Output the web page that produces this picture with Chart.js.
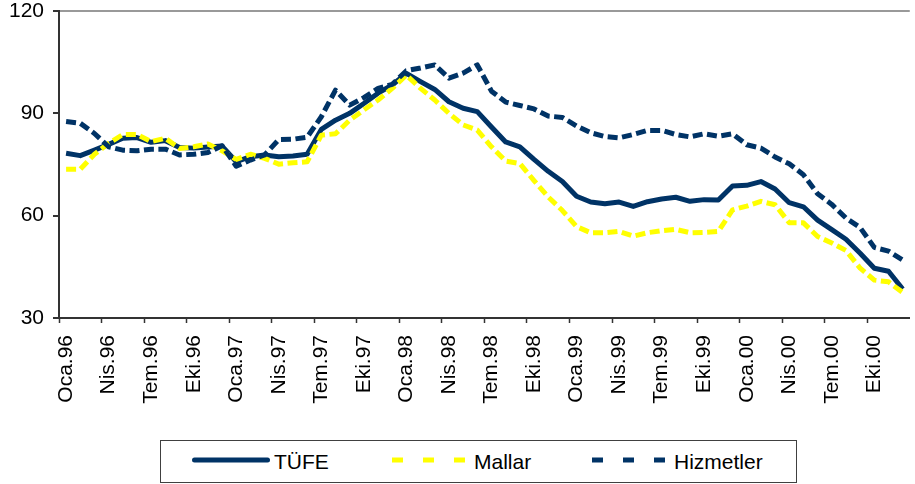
<!DOCTYPE html>
<html>
<head>
<meta charset="utf-8">
<script src="https://cdn.jsdelivr.net/npm/chart.js@4"></script>
<style>
  html, body { margin: 0; padding: 0; overflow: hidden; background: #fff; }
  /* the plot runs on past the right edge of the window, like the cropped original */
  #wrap { width: 940px; height: 484px; }
  #legend {
    position: absolute; left: 160px; top: 440px; width: 637px; height: 43px;
    box-sizing: border-box; border: 1px solid #404040; background: #fff;
    font-family: 'Liberation Sans', Arial, sans-serif; font-size: 21px; color: #000;
  }
  #legend .item { position: absolute; top: 0; height: 41px; }
  #legend svg { position: absolute; left: 0; top: 16px; }
  #legend span { position: absolute; left: 82px; top: 8.7px; line-height: 24px; white-space: nowrap; }
</style>
</head>
<body>
<div id="wrap"><canvas id="chart"></canvas></div>
<div id="legend"></div>
<script>
const monthNames = ['Oca', 'Şub', 'Mar', 'Nis', 'May', 'Haz', 'Tem', 'Ağu', 'Eyl', 'Eki', 'Kas', 'Ara'];
const years = ['96', '97', '98', '99', '00'];
const yTicks = [30, 60, 90, 120];

const tufe = [78.3, 77.6, 79.2, 80.9, 82.7, 82.9, 81.5, 82.0, 80.0, 79.8,
    80.1, 80.4, 75.8, 77.3, 77.8, 77.3, 77.5, 78.0, 85.3, 88.0,
    90.0, 92.9, 95.9, 98.3, 101.7, 99.3, 97.0, 93.4, 91.5, 90.5,
    86.0, 81.6, 80.2, 76.5, 73.0, 70.0, 65.7, 64.0, 63.5, 64.0,
    62.7, 64.1, 64.9, 65.4, 64.2, 64.7, 64.6, 68.7, 68.9, 70.0,
    67.8, 63.8, 62.6, 58.7, 55.9, 53.1, 49.0, 44.6, 43.7, 38.5];
const mallar = [73.6, 73.6, 78.0, 81.2, 83.8, 83.8, 81.7, 82.7, 79.7, 80.2,
    81.0, 79.0, 76.5, 78.0, 76.8, 75.1, 75.5, 75.8, 83.6, 84.0,
    88.0, 91.0, 93.9, 97.3, 101.2, 97.3, 93.9, 90.0, 86.6, 85.1,
    80.2, 76.0, 75.3, 70.3, 65.5, 61.5, 56.8, 55.0, 55.0, 55.4,
    54.0, 55.0, 55.6, 56.0, 55.0, 55.1, 55.4, 61.7, 62.8, 64.2,
    63.2, 57.9, 57.9, 53.9, 52.0, 49.8, 44.6, 41.1, 40.6, 37.5];
const hizmetler = [87.6, 87.1, 84.1, 80.2, 79.2, 79.0, 79.5, 79.5, 77.8, 78.0,
    78.5, 80.5, 74.5, 76.3, 77.8, 82.3, 82.4, 83.0, 89.0, 96.8,
    92.4, 94.6, 97.3, 98.5, 102.5, 103.3, 104.2, 100.3, 101.8, 104.2,
    96.5, 93.3, 92.3, 91.3, 89.2, 88.8, 86.3, 84.3, 83.2, 82.8,
    83.8, 85.0, 85.0, 83.8, 83.1, 84.0, 83.3, 84.0, 80.8, 79.8,
    77.2, 75.2, 72.0, 66.4, 63.3, 59.3, 56.5, 50.7, 49.6, 47.0];

const labels = [];
years.forEach(y => monthNames.forEach(m => labels.push(m + '.' + y)));

const navy = '#003366';
const yellow = '#ffff00';
const font = "'Liberation Sans', Arial, sans-serif";

const chart = new Chart(document.getElementById('chart'), {
    type: 'line',
    data: {
        labels: labels,
        datasets: [
            { label: 'TÜFE', data: tufe, borderColor: navy, order: 2 },
            { label: 'Mallar', data: mallar, borderColor: yellow, borderDash: [10, 4.5], order: 1 },
            { label: 'Hizmetler', data: hizmetler, borderColor: navy, borderDash: [10, 4.5], order: 0 }
        ]
    },
    options: {
        responsive: true,
        maintainAspectRatio: false,
        animation: false,
        events: [],
        layout: { padding: { left: 0, right: 14.3, top: 11, bottom: 71 } },
        elements: {
            line: { borderWidth: 5, tension: 0, fill: false, borderJoinStyle: 'round' },
            point: { radius: 0 }
        },
        scales: {
            x: {
                offset: true,
                grid: {
                    offset: true,
                    drawOnChartArea: false,
                    tickLength: 5,
                    tickWidth: 1.5,
                    tickColor: ctx => ctx.index % 3 === 0 ? '#333' : 'rgba(0,0,0,0)'
                },
                border: { color: '#333', width: 2 },
                ticks: {
                    autoSkip: false,
                    minRotation: 90,
                    maxRotation: 90,
                    padding: 12,
                    color: '#000',
                    font: { family: font, size: 21 },
                    callback: (v, i) => i % 3 === 0 ? labels[i] : ''
                },
                afterFit: axis => { axis.height = 95; }
            },
            y: {
                min: 30,
                max: 120,
                afterBuildTicks: axis => { axis.ticks = yTicks.map(v => ({ value: v })); },
                grid: {
                    color: ctx => ctx.tick && ctx.tick.value === 120 ? '#999' : 'rgba(0,0,0,0)',
                    lineWidth: 2,
                    tickColor: '#333',
                    tickLength: 6
                },
                border: { color: '#333', width: 2 },
                ticks: { padding: 9, color: '#000', font: { family: font, size: 21, lineHeight: 1 } },
                // fixed width; and only half a label of room above the top tick
                afterFit: axis => {
                    axis.width = 59;
                    axis.paddingTop = 10;
                    axis.paddingBottom = 10;
                }
            }
        },
        plugins: {
            tooltip: { enabled: false },
            legend: { display: false }
        }
    }
});

// boxed legend under the axis, one column per series
const legendDash = ['', '11 20', '11 20'];
const legendBox = document.getElementById('legend');
chart.data.datasets.forEach((ds, i) => {
    const item = document.createElement('div');
    item.className = 'item';
    item.style.left = (31 + 200 * i) + 'px';
    const round = legendDash[i] === '';
    item.innerHTML =
        '<svg width="78" height="6"><line x1="' + (round ? 2.5 : 0) + '" y1="3" x2="' + (round ? 75.5 : 78) +
        '" y2="3" stroke="' + ds.borderColor + '" stroke-width="5" stroke-linecap="' + (round ? 'round' : 'butt') +
        '" stroke-dasharray="' + legendDash[i] + '"/></svg><span>' + ds.label + '</span>';
    legendBox.appendChild(item);
});
</script>
</body>
</html>
